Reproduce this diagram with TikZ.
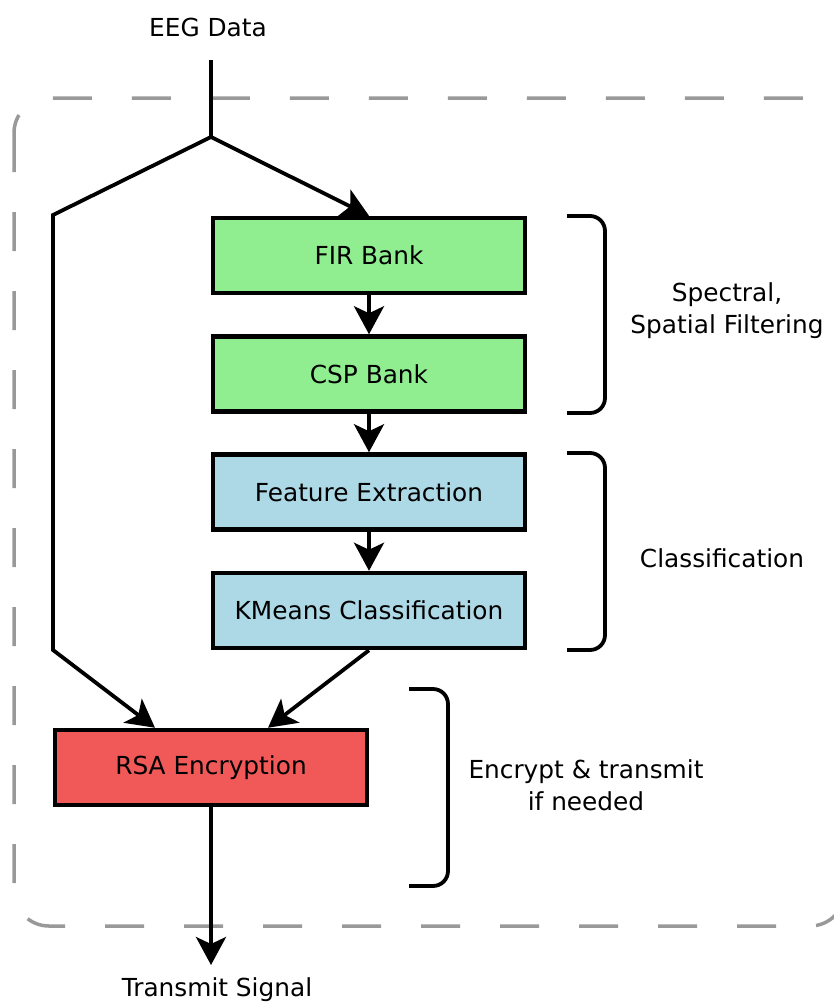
\documentclass[tikz,border=0pt]{standalone}
\usepackage{fontspec}
\setmainfont{DejaVu Sans}
\usetikzlibrary{arrows.meta, positioning}
\definecolor{firgreen}{HTML}{90EE90}
\definecolor{clsblue}{HTML}{ADD8E6}
\definecolor{rsared}{HTML}{F15858}
\definecolor{framegray}{HTML}{999999}

\begin{document}
\begin{tikzpicture}[x=1pt, y=-1pt,
  font=\fontsize{24.8}{32}\selectfont,
  block/.style={draw, line width=4.5pt, minimum width=312pt, minimum height=75pt, inner sep=0pt},
  flow/.style={line width=3.8pt, -{Stealth[length=28pt, width=30pt, inset=7pt]}},
  brace/.style={line width=3.8pt, rounded corners=15pt},
  frame/.style={draw=framegray, line width=3.5pt, dash pattern=on 39pt off 40pt, rounded corners=35pt}]
  \useasboundingbox (0,0) rectangle (834,1004);
  \draw[frame] (14,98) rectangle (845,926);

  \node (eeg) at (208,27) {EEG Data};
  \node (tx) at (217,990) {Transmit Signal};
  \coordinate (in) at (211,60);
  \coordinate (split) at (211,137);
  \coordinate (lt) at (53,215);
  \coordinate (lb) at (53,650);
  \coordinate (out) at (211,965);

  \node[block, fill=firgreen] (fir) at (369,255.5) {FIR Bank};
  \node[block, fill=firgreen] (csp) at (369,374) {CSP Bank};
  \node[block, fill=clsblue] (feat) at (369,492) {Feature Extraction};
  \node[block, fill=clsblue] (kmeans) at (369,610.5) {KMeans Classification};
  \node[block, fill=rsared] (rsa) at (211,767.5) {RSA Encryption};

  \draw[flow] (in) -- (split) -- (lt) -- (lb) -- ([xshift=-56pt]rsa.north);
  \draw[flow] (split) -- (fir.north);
  \draw[flow] (fir) -- (csp);
  \draw[flow] (csp) -- (feat);
  \draw[flow] (feat) -- (kmeans);
  \draw[flow] (kmeans.south) -- ([xshift=57pt]rsa.north);
  \draw[flow] (rsa) -- (out);

  % braces and their labels
  \draw[brace] (567,216) -- (605,216) -- (605,413) -- (567,413);
  \draw[brace] (567,453) -- (605,453) -- (605,650) -- (567,650);
  \draw[brace] (409,689) -- (448,689) -- (448,886) -- (409,886);
  \node[align=center] (spec) at (727,311) {Spectral,\\Spatial Filtering};
  \node (cls) at (722,558) {Classification};
  \node[align=center] (enc) at (586,785) {Encrypt \& transmit\\if needed};
\end{tikzpicture}
\end{document}
